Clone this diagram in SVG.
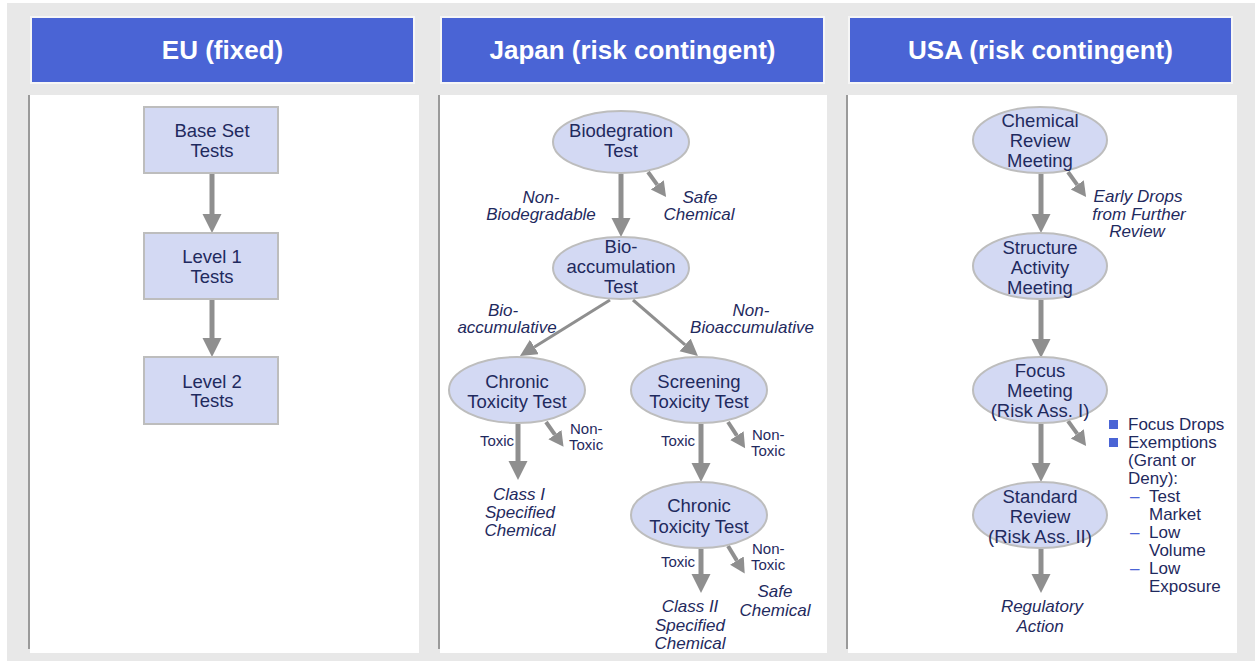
<svg xmlns="http://www.w3.org/2000/svg" width="1255" height="661" viewBox="0 0 1255 661">
<defs>
<style>
text{font-family:"Liberation Sans",Arial,sans-serif;fill:#1f2a5e}
.hdr{fill:#4a64d5;stroke:#f6f6f6;stroke-width:2}
.htxt{font-size:26px;font-weight:bold;fill:#ffffff;text-anchor:middle}
.panel{fill:#ffffff}
.pedge{fill:#9a9a9a}
.box{fill:#d3d9f3;stroke:#bdbdbd;stroke-width:2}
.nt{font-size:18.5px;text-anchor:middle}
.lbl{font-size:17px;font-style:italic;text-anchor:middle}
.sm{font-size:15px}
.smc{font-size:15px;text-anchor:middle}
.bl{font-size:17px}
.big{stroke:#8f8f8f;stroke-width:5;fill:none;marker-end:url(#hb)}
.dia{stroke:#8f8f8f;stroke-width:3;fill:none;marker-end:url(#hd)}
.sht{stroke:#8f8f8f;stroke-width:4;fill:none;marker-end:url(#hs)}
.bul{fill:#4a64d5}
.dash{fill:#4a64d5;font-size:17px}
</style>
<marker id="hb" markerUnits="userSpaceOnUse" markerWidth="20" markerHeight="20" refX="0" refY="9.5" orient="auto" viewBox="0 0 20 20"><path d="M0,0 L19,9.5 L0,19 z" fill="#8f8f8f"/></marker>
<marker id="hd" markerUnits="userSpaceOnUse" markerWidth="18" markerHeight="18" refX="0" refY="8.5" orient="auto" viewBox="0 0 18 18"><path d="M0,0 L17,8.5 L0,17 z" fill="#8f8f8f"/></marker>
<marker id="hs" markerUnits="userSpaceOnUse" markerWidth="17" markerHeight="17" refX="0" refY="8" orient="auto" viewBox="0 0 17 17"><path d="M0,0 L15,8 L0,16 z" fill="#8f8f8f"/></marker>
</defs>

<rect x="7" y="3" width="1248" height="658" fill="#e8e8e8"/>

<g id="eu-column">
<rect class="hdr" x="31" y="17" width="383" height="66"/>
<text class="htxt" x="222.5" y="59">EU (fixed)</text>
<rect class="panel" x="30" y="95" width="389" height="558"/>
<rect class="pedge" x="28" y="95" width="2" height="554"/>
</g>
<g id="japan-column">
<rect class="hdr" x="441" y="17" width="383" height="66"/>
<text class="htxt" x="632.5" y="59">Japan (risk contingent)</text>
<rect class="panel" x="440" y="95" width="387" height="558"/>
<rect class="pedge" x="438" y="95" width="2" height="554"/>
</g>
<g id="usa-column">
<rect class="hdr" x="849" y="17" width="383" height="66"/>
<text class="htxt" x="1040.5" y="59">USA (risk contingent)</text>
<rect class="panel" x="848" y="95" width="389" height="558"/>
<rect class="pedge" x="846" y="95" width="2" height="554"/>
</g>

<g id="connectors">
<line class="big" x1="212" y1="174" x2="212" y2="214"/>
<line class="big" x1="212" y1="300" x2="212" y2="338"/>

<line class="big" x1="621" y1="174" x2="621" y2="218"/>
<line class="sht" x1="648" y1="172" x2="657.3" y2="184.9"/>
<line class="dia" x1="610" y1="300" x2="534.4" y2="347"/>
<line class="dia" x1="633" y1="300" x2="685.1" y2="344.9"/>
<line class="big" x1="518" y1="424" x2="518" y2="461"/>
<line class="sht" x1="546" y1="422" x2="554.9" y2="434.6"/>
<line class="big" x1="701" y1="424" x2="701" y2="463"/>
<line class="sht" x1="728" y1="422" x2="736.9" y2="435.6"/>
<line class="big" x1="701" y1="549" x2="701" y2="574"/>
<line class="sht" x1="728" y1="546" x2="736.9" y2="560.6"/>

<line class="big" x1="1041" y1="174" x2="1041" y2="214"/>
<line class="sht" x1="1068" y1="172" x2="1077.3" y2="184.9"/>
<line class="big" x1="1041" y1="300" x2="1041" y2="339"/>
<line class="big" x1="1041" y1="424" x2="1041" y2="463"/>
<line class="sht" x1="1068" y1="421" x2="1077.3" y2="433.9"/>
<line class="big" x1="1041" y1="549" x2="1041" y2="574"/>
</g>

<g id="base-set-tests">
<rect class="box" x="144" y="107" width="134" height="66"/>
<text class="nt" x="212" y="137">Base Set</text>
<text class="nt" x="212" y="157">Tests</text>
</g>
<g id="level-1-tests">
<rect class="box" x="144" y="233" width="134" height="66"/>
<text class="nt" x="212" y="263">Level 1</text>
<text class="nt" x="212" y="283">Tests</text>
</g>
<g id="level-2-tests">
<rect class="box" x="144" y="357" width="134" height="67"/>
<text class="nt" x="212" y="388">Level 2</text>
<text class="nt" x="212" y="407">Tests</text>
</g>

<g id="biodegration-test">
<ellipse class="box" cx="621" cy="142" rx="68" ry="31"/>
<text class="nt" x="621" y="137">Biodegration</text>
<text class="nt" x="621" y="157">Test</text>
</g>
<g id="bioaccumulation-test">
<ellipse class="box" cx="621" cy="268" rx="68" ry="31"/>
<text class="nt" x="621" y="253">Bio-</text>
<text class="nt" x="621" y="273">accumulation</text>
<text class="nt" x="621" y="293">Test</text>
</g>
<g id="chronic-toxicity-test-1">
<ellipse class="box" cx="517" cy="390" rx="68" ry="33"/>
<text class="nt" x="517" y="388">Chronic</text>
<text class="nt" x="517" y="408">Toxicity Test</text>
</g>
<g id="screening-toxicity-test">
<ellipse class="box" cx="699" cy="390" rx="68" ry="33"/>
<text class="nt" x="699" y="388">Screening</text>
<text class="nt" x="699" y="408">Toxicity Test</text>
</g>
<g id="chronic-toxicity-test-2">
<ellipse class="box" cx="699" cy="515" rx="68" ry="33"/>
<text class="nt" x="699" y="512">Chronic</text>
<text class="nt" x="699" y="533">Toxicity Test</text>
</g>

<g id="japan-labels">
<text class="lbl" x="541" y="203">Non-</text>
<text class="lbl" x="541" y="220">Biodegradable</text>
<text class="lbl" x="700" y="203">Safe</text>
<text class="lbl" x="699" y="220">Chemical</text>
<text class="lbl" x="503" y="316">Bio-</text>
<text class="lbl" x="507" y="333">accumulative</text>
<text class="lbl" x="751" y="316">Non-</text>
<text class="lbl" x="752" y="333">Bioaccumulative</text>
<text class="smc" x="497" y="446">Toxic</text>
<text class="sm" x="570" y="434">Non-</text>
<text class="sm" x="569" y="450">Toxic</text>
<text class="smc" x="678" y="446">Toxic</text>
<text class="sm" x="752" y="440">Non-</text>
<text class="sm" x="751" y="456">Toxic</text>
<text class="smc" x="678" y="567">Toxic</text>
<text class="sm" x="752" y="554">Non-</text>
<text class="sm" x="751" y="570">Toxic</text>
</g>
<g id="class-i-specified-chemical">
<text class="lbl" x="519" y="500">Class I</text>
<text class="lbl" x="520" y="518">Specified</text>
<text class="lbl" x="520" y="536">Chemical</text>
</g>
<g id="class-ii-specified-chemical">
<text class="lbl" x="690" y="612">Class II</text>
<text class="lbl" x="690" y="631">Specified</text>
<text class="lbl" x="690" y="649">Chemical</text>
</g>
<g id="safe-chemical-2">
<text class="lbl" x="775" y="597">Safe</text>
<text class="lbl" x="775" y="616">Chemical</text>
</g>

<g id="chemical-review-meeting">
<ellipse class="box" cx="1040" cy="140" rx="67" ry="33"/>
<text class="nt" x="1040" y="127">Chemical</text>
<text class="nt" x="1040" y="147">Review</text>
<text class="nt" x="1040" y="167">Meeting</text>
</g>
<g id="structure-activity-meeting">
<ellipse class="box" cx="1040" cy="266" rx="67" ry="33"/>
<text class="nt" x="1040" y="254">Structure</text>
<text class="nt" x="1040" y="274">Activity</text>
<text class="nt" x="1040" y="294">Meeting</text>
</g>
<g id="focus-meeting">
<ellipse class="box" cx="1040" cy="390" rx="67" ry="33"/>
<text class="nt" x="1040" y="377">Focus</text>
<text class="nt" x="1040" y="397">Meeting</text>
<text class="nt" x="1040" y="417">(Risk Ass. I)</text>
</g>
<g id="standard-review">
<ellipse class="box" cx="1040" cy="515" rx="67" ry="33"/>
<text class="nt" x="1040" y="503">Standard</text>
<text class="nt" x="1040" y="523">Review</text>
<text class="nt" x="1040" y="543">(Risk Ass. II)</text>
</g>

<g id="early-drops">
<text class="lbl" x="1138" y="202">Early Drops</text>
<text class="lbl" x="1139" y="220">from Further</text>
<text class="lbl" x="1137" y="237">Review</text>
</g>
<g id="regulatory-action">
<text class="lbl" x="1042" y="612">Regulatory</text>
<text class="lbl" x="1040" y="632">Action</text>
</g>
<g id="focus-outcomes">
<rect class="bul" x="1109" y="420" width="9" height="9"/>
<text class="bl" x="1128" y="430">Focus Drops</text>
<rect class="bul" x="1109" y="438" width="9" height="9"/>
<text class="bl" x="1128" y="448">Exemptions</text>
<text class="bl" x="1128" y="466">(Grant or</text>
<text class="bl" x="1128" y="484">Deny):</text>
<text class="dash" x="1130" y="502">–</text>
<text class="bl" x="1149" y="502">Test</text>
<text class="bl" x="1149" y="520">Market</text>
<text class="dash" x="1130" y="538">–</text>
<text class="bl" x="1149" y="538">Low</text>
<text class="bl" x="1149" y="556">Volume</text>
<text class="dash" x="1130" y="574">–</text>
<text class="bl" x="1149" y="574">Low</text>
<text class="bl" x="1149" y="592">Exposure</text>
</g>
</svg>
